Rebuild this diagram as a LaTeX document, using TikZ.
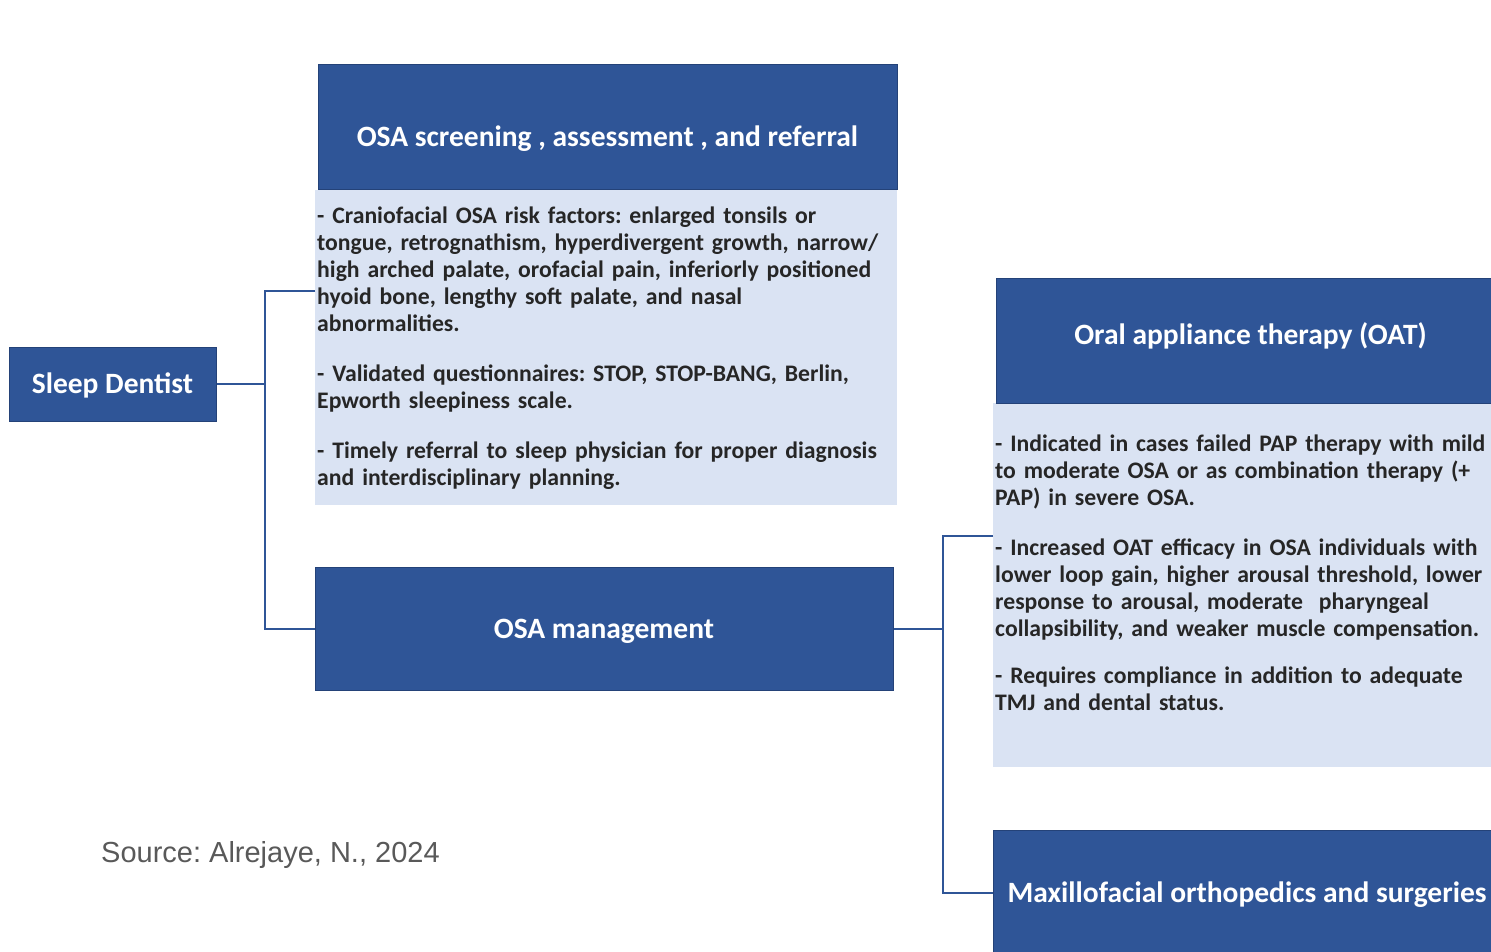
\documentclass[tikz,border=0pt]{standalone}
\usepackage{fontspec}
\setmainfont{Carlito}
\newfontfamily\srcfont{Liberation Sans}
\usetikzlibrary{calc}
\definecolor{osablue}{RGB}{47,85,151}
\definecolor{osaedge}{RGB}{36,66,120}
\definecolor{osalight}{RGB}{218,227,243}
\definecolor{osatext}{RGB}{38,38,38}
\definecolor{srcgray}{RGB}{89,89,89}
\frenchspacing
\tikzset{
  head/.style={draw=osaedge, line width=1pt, fill=osablue, text=white, inner sep=0pt,
    text height=24pt, text depth=5pt, font=\fontsize{29.5}{34}\selectfont\bfseries},
  body/.style={fill=osalight, text=osatext, align=left, anchor=north west, inner xsep=2pt, inner ysep=0pt,
    font=\fontsize{23.7}{27}\selectfont\bfseries},
  link/.style={draw=osablue, line width=2pt},
}

\begin{document}
\begin{tikzpicture}[x=1pt, y=-1pt]
	%%%%% START %%%%%
	\useasboundingbox (0,0) rectangle (1491,952);
	
	\node[head, minimum width=207, minimum height=74] (dentist) at (112.5,384) {Sleep Dentist};
	
	\node[body, text width=578, minimum height=315] (screenbody) at (315,190) {%
		- Craniofacial OSA risk factors: enlarged tonsils or\\
		tongue, retrognathism, hyperdivergent growth, narrow/\\
		high arched palate, orofacial pain, inferiorly positioned\\
		hyoid bone, lengthy soft palate, and nasal\\
		abnormalities.\\[23pt]
		- Validated questionnaires: STOP, STOP-BANG, Berlin,\\
		Epworth sleepiness scale.\\[23pt]
		- Timely referral to sleep physician for proper diagnosis\\
		and interdisciplinary planning.};
	\node[head, minimum width=579, minimum height=125, text height=43pt] (screen) at (607.5,127.5) {OSA screening , assessment , and referral};
	
	\node[head, minimum width=578, minimum height=123] (mgmt) at (604,628.5) {OSA management};
	
	\node[body, text width=508, minimum height=364] (oatbody) at (993,403) {%
		- Indicated in cases failed PAP therapy with mild\\
		to moderate OSA or as combination therapy (+\\
		PAP) in severe OSA.\\[23pt]
		- Increased OAT efficacy in OSA individuals with\\
		lower loop gain, higher arousal threshold, lower\\
		response to arousal, moderate\ \ pharyngeal\\
		collapsibility, and weaker muscle compensation.\\[20pt]
		- Requires compliance in addition to adequate\\
		TMJ and dental status.\\[-2pt]
		\mbox{}};
	\node[head, minimum width=509, minimum height=125, text depth=17pt] (oat) at (1250.5,340.5) {Oral appliance therapy (OAT)};
	
	\node[head, minimum width=508, minimum height=125] (maxfac) at (1247,892.5) {Maxillofacial orthopedics and surgeries};
	
	\node[anchor=west, inner sep=0pt, text=srcgray, font=\srcfont\fontsize{29}{34}\selectfont] (source) at (101,855) {Source: Alrejaye, N., 2024};
	
	% left bus
	\coordinate (busL) at (265,0);
	\draw[link] (dentist.east) -- (dentist.east -| busL);
	\draw[link] (screenbody.west |- 0,291) -| (busL |- mgmt.west) -- (mgmt.west);
	
	% right bus
	\coordinate (busR) at (943,0);
	\draw[link] (mgmt.east) -- (mgmt.east -| busR);
	\draw[link] (oatbody.west |- 0,536) -| (busR |- maxfac.west) -- (maxfac.west);
	
	%%%%% END %%%%%
\end{tikzpicture}
\end{document}
